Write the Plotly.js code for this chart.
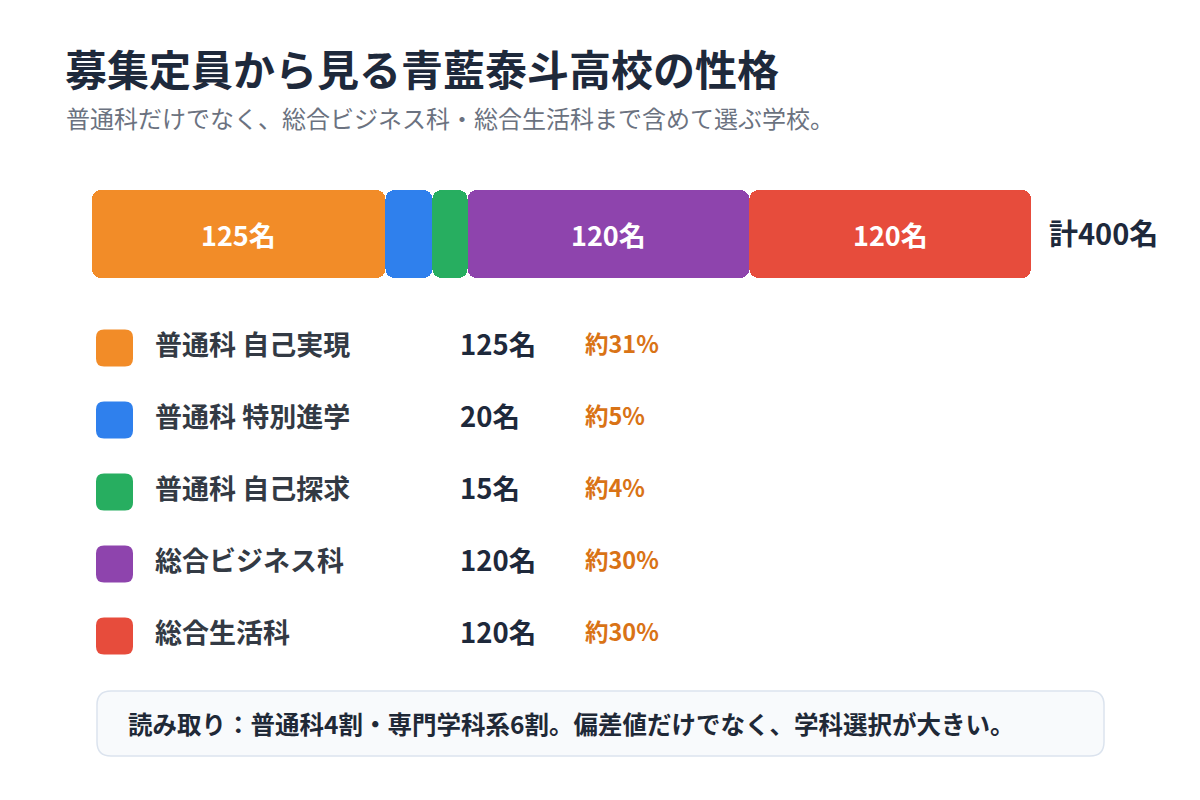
<!DOCTYPE html>
<html>
<head>
<meta charset="utf-8">
<script src="https://cdn.plot.ly/plotly-3.0.1.min.js"></script>
<style>
html,body{margin:0;padding:0;background:#fff;}
#chart{width:1200px;height:800px;}
</style>
</head>
<body>
<div id="chart"></div>
<script>
// ---- data ----
const categories = ["普通科 自己実現", "普通科 特別進学", "普通科 自己探求", "総合ビジネス科", "総合生活科"];
const capacities = [125, 20, 15, 120, 120];
const shareLabels = ["約31%", "約5%", "約4%", "約30%", "約30%"];
const colors = ["#f28c28", "#2f80ed", "#27ae60", "#8e44ad", "#e74c3c"];
const titleText = "募集定員から見る青藍泰斗高校の性格";
const subtitleText = "普通科だけでなく、総合ビジネス科・総合生活科まで含めて選ぶ学校。";
const noteText = "読み取り：普通科4割・専門学科系6割。偏差値だけでなく、学科選択が大きい。";
const unit = "名";

// ---- layout helpers ----
const W = 1200, H = 800;
const FONT = "Noto Sans CJK JP, Noto Sans, sans-serif";
const px = x => x / W;
const py = y => 1 - y / H;
function roundRect(x0, y0, x1, y1, r) {
  const P = (x, y) => px(x) + "," + py(y);
  return "M" + P(x0 + r, y0) + " L" + P(x1 - r, y0) + " Q" + P(x1, y0) + " " + P(x1, y0 + r) +
    " L" + P(x1, y1 - r) + " Q" + P(x1, y1) + " " + P(x1 - r, y1) +
    " L" + P(x0 + r, y1) + " Q" + P(x0, y1) + " " + P(x0, y1 - r) +
    " L" + P(x0, y0 + r) + " Q" + P(x0, y0) + " " + P(x0 + r, y0) + " Z";
}

const total = capacities.reduce((a, b) => a + b, 0);
const starts = [], mids = [];
let acc = 0;
capacities.forEach(v => { starts.push(acc); mids.push(acc + v / 2); acc += v; });

// one bar per segment, placed with an explicit base (rounded on both ends)
const segments = {
  type: "bar", orientation: "h",
  y: capacities.map(() => 0),
  base: starts,
  x: capacities,
  width: 1,
  marker: { color: colors, cornerradius: 9, line: { width: 0 } },
  hoverinfo: "skip", showlegend: false
};

const annotations = [];
const shapes = [];

annotations.push({ xref: "paper", yref: "paper", x: px(63), y: py(68), xanchor: "left", yanchor: "middle",
  text: titleText, showarrow: false, font: { family: FONT, size: 42, weight: 700, color: "#1e293b" } });
annotations.push({ xref: "paper", yref: "paper", x: px(64), y: py(118), xanchor: "left", yanchor: "middle",
  text: subtitleText, showarrow: false, font: { family: FONT, size: 24, color: "#6b7280" } });

capacities.forEach((v, i) => {
  if (v >= 50) {
    annotations.push({ xref: "x", yref: "y", x: mids[i], y: 0, xanchor: "center", yanchor: "middle",
      text: v + unit, showarrow: false, font: { family: FONT, size: 27, weight: 700, color: "#ffffff" } });
  }
});
annotations.push({ xref: "paper", yref: "paper", x: px(1047), y: py(232), xanchor: "left", yanchor: "middle",
  text: "計" + total + unit, showarrow: false, font: { family: FONT, size: 29, weight: 700, color: "#1e293b" } });

const rowY0 = 348, rowStep = 72;
categories.forEach((c, i) => {
  const cy = rowY0 + i * rowStep;
  shapes.push({ type: "path", xref: "paper", yref: "paper", path: roundRect(96, cy - 18.5, 133, cy + 18.5, 8),
    fillcolor: colors[i], line: { width: 0 } });
  annotations.push({ xref: "paper", yref: "paper", x: px(153), y: py(cy - 5), xanchor: "left", yanchor: "middle",
    text: c, showarrow: false, font: { family: FONT, size: 27, weight: 700, color: "#333a44" } });
  annotations.push({ xref: "paper", yref: "paper", x: px(458), y: py(cy - 5), xanchor: "left", yanchor: "middle",
    text: capacities[i] + unit, showarrow: false, font: { family: FONT, size: 27.5, weight: 700, color: "#1e293b" } });
  annotations.push({ xref: "paper", yref: "paper", x: px(583), y: py(cy - 5), xanchor: "left", yanchor: "middle",
    text: shareLabels[i], showarrow: false, font: { family: FONT, size: 23.5, weight: 600, color: "#d97316" } });
});

shapes.push({ type: "path", xref: "paper", yref: "paper", path: roundRect(97, 691, 1104, 756, 14),
  fillcolor: "#f8fafc", line: { color: "#dbe3ee", width: 1.5 }, layer: "below" });
annotations.push({ xref: "paper", yref: "paper", x: px(126), y: py(723), xanchor: "left", yanchor: "middle",
  text: noteText, showarrow: false, font: { family: FONT, size: 24.5, weight: 700, color: "#1f2937" } });

const layout = {
  width: W, height: H,
  margin: { l: 0, r: 0, t: 0, b: 0, pad: 0 },
  paper_bgcolor: "#ffffff", plot_bgcolor: "rgba(0,0,0,0)",
  barmode: "overlay", bargap: 0,
  xaxis: { domain: [px(92), px(1031)], range: [0, total], visible: false, fixedrange: true },
  yaxis: { domain: [py(278), py(190)], range: [-0.5, 0.5], visible: false, fixedrange: true },
  showlegend: false,
  annotations: annotations,
  shapes: shapes,
  font: { family: FONT }
};

Plotly.newPlot("chart", [segments], layout, { displayModeBar: false, staticPlot: true });
</script>
</body>
</html>
